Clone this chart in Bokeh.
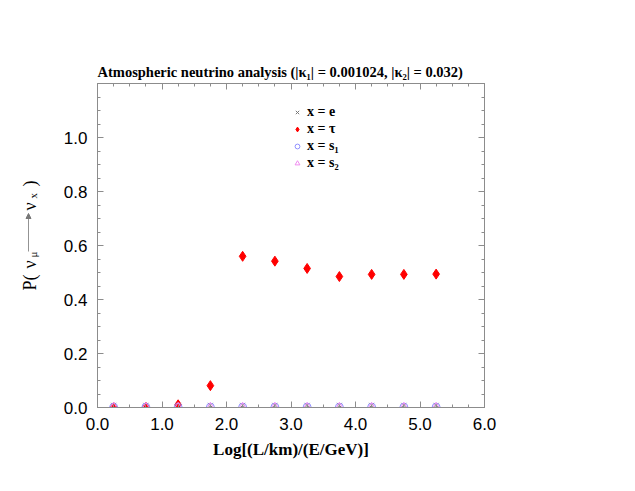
import numpy as np
from bokeh.plotting import figure
from bokeh.layouts import row
from bokeh.models import (Legend, LegendItem, LinearAxis, FixedTicker,
                          Arrow, NormalHead, CustomJSTickFormatter)
from bokeh.core.properties import value
from bokeh.embed import file_html
from bokeh.resources import INLINE

# ---- data ----
log_le = [0.25, 0.75, 1.25, 1.75, 2.25, 2.75, 3.25, 3.75, 4.25, 4.75, 5.25]
p_e    = [0.008, 0.008, 0.008, 0.008, 0.008, 0.008, 0.008, 0.008, 0.008, 0.008, 0.008]
p_tau  = [0.001, 0.001, 0.01, 0.081, 0.560, 0.542, 0.515, 0.485, 0.493, 0.493, 0.494]
p_s1   = [0.001, 0.001, 0.001, 0.001, 0.001, 0.001, 0.001, 0.001, 0.001, 0.001, 0.001]
p_s2   = [0.0, 0.0, 0.0, 0.0, 0.0, 0.0, 0.0, 0.0, 0.0, 0.0, 0.0]
x_ticks = [0, 1, 2, 3, 4, 5, 6]
y_ticks = [0.0, 0.2, 0.4, 0.6, 0.8, 1.0]
legend_labels = ["x = e", "x = \u03c4", "x = s\u2081", "x = s\u2082"]
title_text = "Atmospheric neutrino analysis (|\u03ba\u2081| = 0.001024, |\u03ba\u2082| = 0.032)"
x_label = "Log[(L/km)/(E/GeV)]"
# y-axis label pieces: P( nu_mu --> nu_x )
ylab_main = ["P(", "\u03bd", "\u03bd", ")"]
ylab_subs = ["\u03bc", "x"]

SERIF = "Liberation Serif"
SANS = "Liberation Sans"
AX = "#8c8c8c"
H = 475
LW = 60
BT, BB = 83, 68   # top / bottom borders (frame edges)

# ---------------- left strip holding the rotated y-axis label ----------------
# its frame is aligned with the main frame; y measured in pixels from the canvas bottom
lf = figure(width=LW, height=H, x_range=(0, LW), y_range=(BB, H - BT),
            output_backend="svg", toolbar_location=None,
            min_border_left=0, min_border_right=0,
            min_border_top=BT, min_border_bottom=BB)
lf.axis.visible = False
lf.grid.visible = False
lf.outline_line_color = None
lf.background_fill_color = "white"
lf.border_fill_color = "white"
ang = np.pi / 2
lf.text(x=[29, 29, 29, 29], y=[185, 207, 265, 289], text=ylab_main, angle=ang,
        text_font=value(SERIF), text_font_size="18px", text_align="left",
        text_baseline="alphabetic", text_color="black")
lf.text(x=[32, 32], y=[218, 277], text=ylab_subs, angle=ang,
        text_font=value(SERIF), text_font_size="11px", text_align="left",
        text_baseline="alphabetic", text_color="black")
lf.add_layout(Arrow(x_start=28, y_start=224, x_end=28, y_end=262,
                    line_color="#777777", line_width=0.8,
                    end=NormalHead(size=5, fill_color="#777777", line_color="#777777")))

# ---------------- main plot ----------------
p = figure(width=620 - LW, height=H, x_range=(0, 6), y_range=(0, 1.2),
           output_backend="svg", toolbar_location=None,
           min_border_left=97 - LW, min_border_right=136,
           min_border_top=BT, min_border_bottom=BB)
p.grid.visible = False
p.outline_line_color = AX
p.background_fill_color = "white"
p.border_fill_color = "white"

x_minor = list(np.arange(0, 6.001, 0.25))
y_minor = list(np.arange(0, 1.2001, 0.05))
fmt = CustomJSTickFormatter(code="return tick.toFixed(1);")

def style(ax, labels=True):
    ax.axis_line_color = AX
    ax.major_tick_line_color = AX
    ax.minor_tick_line_color = AX
    ax.major_tick_in = 6
    ax.major_tick_out = 0
    ax.minor_tick_in = 3
    ax.minor_tick_out = 0
    ax.major_label_text_font = SANS
    ax.major_label_text_font_size = "17px"
    ax.major_label_text_color = "black"
    if not labels:
        ax.major_label_text_alpha = 0
        ax.major_label_text_font_size = "1px"
        ax.major_label_standoff = 0

p.xaxis.ticker = FixedTicker(ticks=x_ticks, minor_ticks=x_minor)
p.yaxis.ticker = FixedTicker(ticks=y_ticks, minor_ticks=y_minor)
p.xaxis.formatter = fmt
p.yaxis.formatter = fmt
style(p.xaxis[0])
style(p.yaxis[0])
p.xaxis.major_label_standoff = 10
p.yaxis.major_label_standoff = 10
p.xaxis.axis_label = x_label
p.xaxis.axis_label_text_font = SERIF
p.xaxis.axis_label_text_font_style = "bold"
p.xaxis.axis_label_text_font_size = "17px"
p.xaxis.axis_label_text_color = "black"
p.xaxis.axis_label_standoff = 7

top = LinearAxis(ticker=FixedTicker(ticks=x_ticks, minor_ticks=x_minor))
right = LinearAxis(ticker=FixedTicker(ticks=y_ticks, minor_ticks=y_minor))
style(top, labels=False)
style(right, labels=False)
p.add_layout(top, "above")
p.add_layout(right, "right")

p.title.text = title_text
p.title.text_font = SERIF
p.title.text_font_style = "bold"
p.title.text_font_size = "14.5px"
p.title.text_color = "black"
p.title.align = "left"
p.title.standoff = 8

r_e = p.scatter(log_le, p_e, marker="x", size=7, line_color="#777777", line_width=1)
r_tau = p.scatter(log_le, p_tau, marker="diamond", size=10, fill_color="red",
                  line_color="red", line_width=1)
r_s1 = p.scatter(log_le, p_s1, marker="circle", size=8, fill_color=None,
                 line_color="#8f8fff", line_width=1)
r_s2 = p.scatter(log_le, p_s2, marker="triangle", size=9, fill_color=None,
                 line_color="#f08cf0", line_width=1)

legend = Legend(items=[LegendItem(label=legend_labels[0], renderers=[r_e]),
                       LegendItem(label=legend_labels[1], renderers=[r_tau]),
                       LegendItem(label=legend_labels[2], renderers=[r_s1]),
                       LegendItem(label=legend_labels[3], renderers=[r_s2])],
                location=(194, 236), border_line_alpha=0, background_fill_alpha=0,
                label_text_font=SERIF, label_text_font_style="bold",
                label_text_font_size="14px", label_text_color="black",
                glyph_width=12, glyph_height=14,
                label_standoff=4, spacing=1, padding=0, margin=0,
                label_height=15)
p.add_layout(legend, "center")

open("out.html", "w").write(file_html(row(lf, p, spacing=0), INLINE))
